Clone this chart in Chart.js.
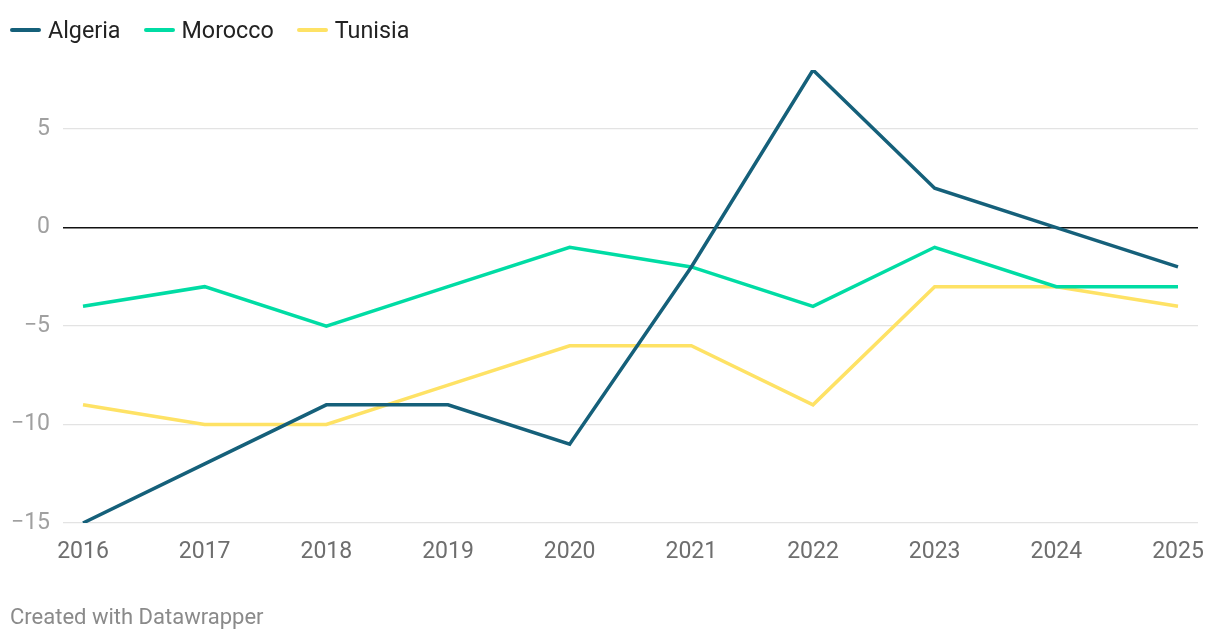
<!DOCTYPE html>
<html>
<head>
<meta charset="utf-8">
<script src="https://cdn.jsdelivr.net/npm/chart.js@4"></script>
<style>
html,body{margin:0;padding:0;background:#fff;}
body{width:1220px;height:640px;position:relative;overflow:hidden;font-family:Roboto,"Noto Sans",sans-serif;}
#wrap{position:absolute;left:0;top:0;width:1220px;height:640px;}
#legend{position:absolute;left:10px;top:16px;display:flex;gap:0;font-size:23.3px;color:#222;line-height:28px;}
.li{display:flex;align-items:center;margin-right:23px;}
.sw{width:31px;height:4px;border-radius:2px;margin-right:7px;}
#foot{position:absolute;left:10px;top:604px;font-size:22px;color:#8a8a8a;line-height:26px;}
</style>
</head>
<body>
<div id="wrap"><canvas id="c" width="1220" height="640"></canvas></div>
<div id="legend"></div>
<div id="foot">Created with Datawrapper</div>
<script>
const years = [2016, 2017, 2018, 2019, 2020, 2021, 2022, 2023, 2024, 2025];
const algeria = [-15, -12, -9, -9, -11, -2, 8, 2, 0, -2];
const morocco = [-4, -3, -5, -3, -1, -2, -4, -1, -3, -3];
const tunisia = [-9, -10, -10, -8, -6, -6, -9, -3, -3, -4];
const yTicks = [-15, -10, -5, 0, 5];
const seriesNames = ["Algeria", "Morocco", "Tunisia"];
const colors = ["#15607a", "#00dca4", "#fee265"];

const seriesData = [algeria, morocco, tunisia];
const lg = document.getElementById('legend');
seriesNames.forEach((n, i) => {
  const d = document.createElement('div'); d.className = 'li';
  d.innerHTML = '<span class="sw" style="background:' + colors[i] + '"></span><span>' + n + '</span>';
  lg.appendChild(d);
});

const datasets = seriesNames.map((n, i) => ({
  label: n,
  data: years.map((y, k) => ({x: y, y: seriesData[i][k]})),
  borderColor: colors[i],
  backgroundColor: colors[i],
  borderWidth: 3.5,
  pointRadius: 0,
  tension: 0,
  fill: false
}));
datasets[0].order = 1; datasets[1].order = 2; datasets[2].order = 3;

const fmt = v => (v < 0 ? '\u2212' + Math.abs(v) : String(v));
const span = (years[years.length-1] - years[0]);
const pad = span * 20 / 1095;

new Chart(document.getElementById('c'), {
  type: 'line',
  data: { datasets },
  options: {
    responsive: false,
    animation: false,
    layout: { padding: { left: 0, right: 22, top: 70, bottom: 0 } },
    plugins: { legend: { display: false }, tooltip: { enabled: false } },
    scales: {
      x: {
        type: 'linear',
        min: years[0] - pad,
        max: years[years.length-1] + pad,
        afterBuildTicks: s => { s.ticks = years.map(v => ({value: v})); },
        afterFit: s => { s.height = 117; },
        grid: { display: false, drawTicks: false },
        border: { display: false },
        ticks: { padding: 15, color: '#6e6e6e', font: { family: 'Roboto', size: 23 }, maxRotation: 0, autoSkip: false, callback: v => String(v) }
      },
      y: {
        min: -15,
        max: 8,
        afterBuildTicks: s => { s.ticks = yTicks.map(v => ({value: v})); },
        afterFit: s => { s.width = 63; },
        grid: {
          drawTicks: false,
          color: c => c.tick && c.tick.value === 0 ? '#111' : '#e3e3e3',
          lineWidth: c => c.tick && c.tick.value === 0 ? 1.6 : 1.2
        },
        border: { display: false },
        ticks: { padding: 13, color: '#a0a0a0', font: { family: 'Roboto', size: 23 }, callback: v => fmt(v) }
      }
    }
  }
});
</script>
</body>
</html>
